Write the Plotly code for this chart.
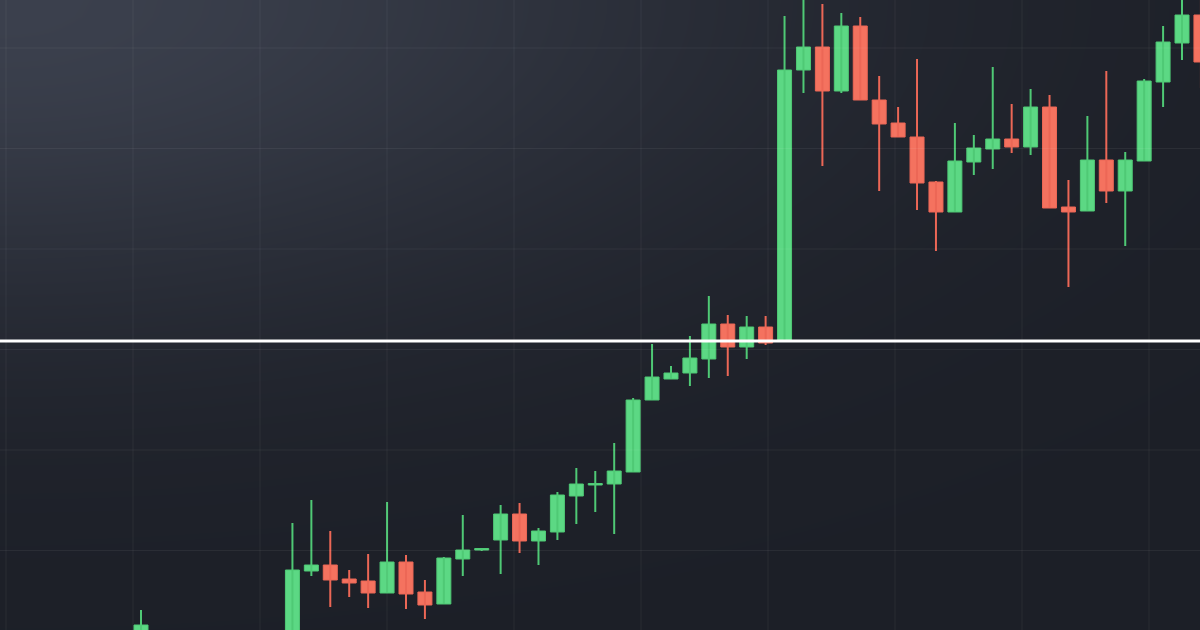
import numpy as np
import plotly.graph_objects as go

# candle index positions and OHLC (price units)
idx = [0] + list(range(8, 57))
opens = [-20, -20, 59, 65, 51, 49, 37, 68, 38, 26, 71, 80, 90, 116, 89, 98, 134, 145, 146,
         158, 230, 251, 257, 271, 306, 283, 303, 289, 560, 583, 539, 604, 530, 507, 493,
         448, 418, 468, 481, 491, 483, 523, 423, 419, 470, 439, 469, 548, 587, 615]
closes = [5, 60, 65, 50, 47, 37, 68, 36, 25, 72, 80, 81, 116, 89, 99, 135, 146, 146, 159,
          230, 253, 257, 272, 306, 283, 303, 287, 560, 583, 539, 604, 530, 506, 493, 447,
          418, 469, 482, 491, 483, 523, 422, 418, 470, 439, 470, 549, 588, 615, 568]
highs = [20, 107, 130, 99, 60, 76, 128, 75, 50, 73, 115, 81, 125, 127, 102, 138, 162, 159,
         187, 232, 286, 264, 294, 334, 315, 314, 314, 614, 635, 626, 617, 613, 554, 523, 571,
         449, 507, 495, 563, 526, 541, 535, 450, 514, 559, 478, 551, 604, 635, 635]
lows = [-30, -30, 54, 23, 33, 22, 37, 21, 11, 26, 54, 79, 56, 77, 65, 90, 106, 118, 96,
        158, 230, 251, 244, 252, 254, 271, 285, 289, 537, 464, 537, 530, 439, 493, 420, 379,
        418, 455, 461, 477, 475, 422, 343, 419, 427, 384, 469, 523, 570, 542]
level = 289

GREEN_FILL, GREEN_LINE = "#5cd884", "#4fc975"
RED_FILL, RED_LINE = "#f4725f", "#ec6756"
GRID = "rgba(255,255,255,0.06)"

x0 = -7.45
x1 = 55.95
px = (x1 - x0) / 1200

fig = go.Figure()

# background glow (lighter top-left)
gx = np.linspace(0, 1, 60)
gy = np.linspace(0, 1, 40)
GX, GY = np.meshgrid(gx, gy)
glow = np.exp(-((GX * 1.3) ** 2 + ((1 - GY) * 1.6) ** 2) * 1.6)
fig.add_trace(go.Heatmap(x=gx, y=gy, z=glow, xaxis="x2", yaxis="y2", zsmooth="best",
                         colorscale=[[0, "#1c1f27"], [1, "#3b404d"]], showscale=False,
                         hoverinfo="skip"))

for up in (True, False):
    sel = [i for i in range(len(idx)) if (closes[i] >= opens[i]) == up]
    wx, wy = [], []
    for i in sel:
        wx += [idx[i], idx[i], None]
        wy += [lows[i], highs[i], None]
    fig.add_trace(go.Scatter(x=wx, y=wy, mode="lines", showlegend=False, hoverinfo="skip",
                             line=dict(color=GREEN_LINE if up else RED_LINE, width=2)))
    fig.add_trace(go.Bar(
        x=[idx[i] for i in sel],
        base=[min(opens[i], closes[i]) for i in sel],
        y=[max(abs(closes[i] - opens[i]), 1.5) for i in sel],
        width=0.74, showlegend=False,
        marker=dict(color=GREEN_FILL if up else RED_FILL,
                    line=dict(color=GREEN_LINE if up else RED_LINE, width=1))))

# grid drawn as shapes so it shows over the background glow
for k in range(10):
    fig.add_vline(x=x0 + (6 + k * 127) * px, line=dict(color=GRID, width=1), layer="above")
for k in range(6):
    fig.add_hline(y=79.5 + k * 100.5, line=dict(color=GRID, width=1), layer="above")

fig.add_hline(y=level, line=dict(color="#ffffff", width=3))

fig.update_layout(
    width=1200, height=630, margin=dict(l=0, r=0, t=0, b=0),
    paper_bgcolor="#1c1f27", plot_bgcolor="rgba(0,0,0,0)", barmode="overlay",
    xaxis=dict(range=[x0, x1], visible=False, overlaying="x2"),
    yaxis=dict(range=[0, 630], visible=False, overlaying="y2"),
    xaxis2=dict(range=[0, 1], visible=False, domain=[0, 1], anchor="y2"),
    yaxis2=dict(range=[0, 1], visible=False, domain=[0, 1], anchor="x2"),
)

fig.write_html("out.html", config={"displayModeBar": False},
               post_script="document.body.style.margin='0';")
